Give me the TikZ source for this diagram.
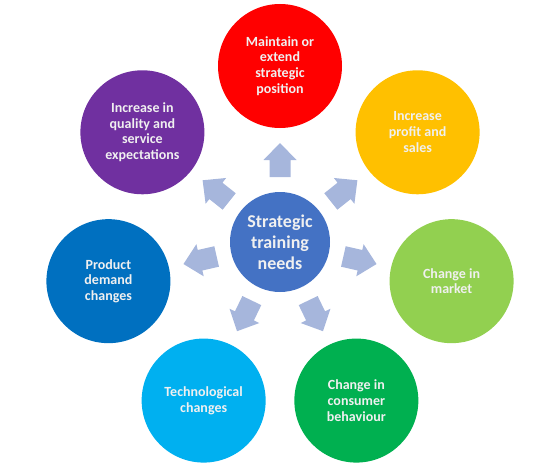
\documentclass[tikz,border=0pt]{standalone}
\usepackage{fontspec}
\setmainfont{Carlito}
\usetikzlibrary{calc}
\definecolor{cRed}{RGB}{255,0,0}
\definecolor{cYellow}{RGB}{255,192,0}
\definecolor{cLime}{RGB}{146,208,80}
\definecolor{cGreen}{RGB}{0,176,80}
\definecolor{cSky}{RGB}{0,176,240}
\definecolor{cBlue}{RGB}{0,112,192}
\definecolor{cPurple}{RGB}{112,48,160}
\definecolor{cCenter}{RGB}{68,114,196}
\definecolor{cArrow}{RGB}{166,182,220}
\begin{document}
\begin{tikzpicture}[x=1pt,y=1pt,
  sat/.style={circle, minimum size=124pt, inner sep=0pt, text=white!94!black, align=center,
    font=\fontsize{14}{15.8}\selectfont\bfseries},
  hub/.style={circle, minimum size=100pt, inner sep=0pt, fill=cCenter, text=white!94!black, align=center,
    font=\fontsize{18}{21}\selectfont\bfseries},
  blockarrow/.style={fill=cArrow}]
\useasboundingbox (0,0) rectangle (559,467);
\coordinate (O) at (280,225);
\node[hub] (hub) at (O) {Strategic\\training\\needs};
\node[sat, fill=cRed]    (s1) at ($(O)+(90:176)$) {Maintain or\\extend\\strategic\\position};
\node[sat, fill=cYellow] (s2) at ($(O)+(38.57:176)$) {Increase\\profit and\\sales};
\node[sat, fill=cLime]   (s3) at ($(O)+(-12.86:176)$) {Change in\\market};
\node[sat, fill=cGreen]  (s4) at ($(O)+(-64.29:176)$) {Change in\\consumer\\behaviour};
\node[sat, fill=cSky]    (s5) at ($(O)+(-115.71:176)$) {Technological\\changes};
\node[sat, fill=cBlue]   (s6) at ($(O)+(-167.14:176)$) {Product\\demand\\changes};
\node[sat, fill=cPurple] (s7) at ($(O)+(141.43:176)$) {Increase in\\quality and\\service\\expectations};
\foreach \a in {90,38.57,-12.86,-64.29,-115.71,-167.14,141.43}{
  \fill[blockarrow, shift={(O)}, rotate=\a]
    (65,-10.5) -- (82,-10.5) -- (82,-16.5) -- (99,0) -- (82,16.5) -- (82,10.5) -- (65,10.5) -- cycle;
}
\end{tikzpicture}
\end{document}
